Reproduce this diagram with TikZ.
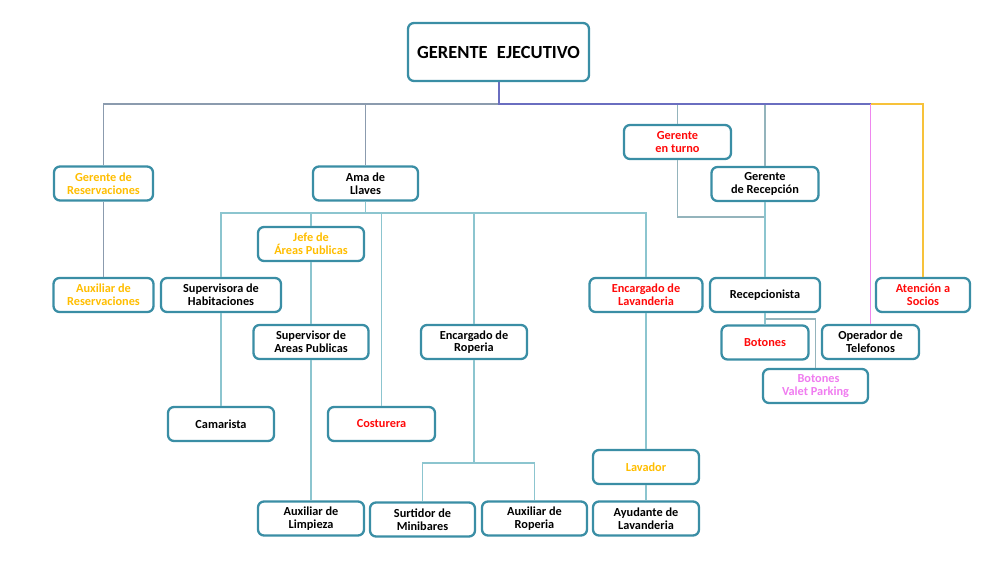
\documentclass[tikz,border=0pt]{standalone}
\usepackage{fontspec}
\setmainfont{Carlito}
\usetikzlibrary{positioning}
\definecolor{borde}{HTML}{3A8EA5}
\definecolor{gris}{HTML}{8B9BAE}
\definecolor{morado}{HTML}{6A6EC0}
\definecolor{claro}{HTML}{8CC5CF}
\definecolor{tenue}{HTML}{94B4BC}
\definecolor{oro}{HTML}{FFBE00}
\definecolor{rojo}{HTML}{FF0A0A}
\definecolor{rosa}{HTML}{F07CF0}
\definecolor{rosalinea}{HTML}{EE86EE}
\definecolor{oroline}{HTML}{F7C23A}

\begin{document}
\begin{tikzpicture}[x=1pt, y=-1pt, font=\bfseries\fontsize{12.3}{12.6}\selectfont,
	puesto/.style={draw=borde, line width=2.3pt, rounded corners=6pt, fill=white, align=center, inner sep=0pt, minimum height=34pt},
	linea gris/.style={draw=gris, line width=1.6pt},
	linea morada/.style={draw=morado, line width=2pt},
	linea clara/.style={draw=claro, line width=1.4pt},
	linea tenue/.style={draw=tenue, line width=1.3pt}]
			\useasboundingbox (0,0) rectangle (1003,563);

  			\node[puesto, minimum width=181pt, minimum height=58pt, font=\bfseries\fontsize{18.5}{20}\selectfont] (gerente) at (498.5,52) {GERENTE\enspace EJECUTIVO};

  			\node[puesto, minimum width=99pt, text=oro]   (gerente reservas) at (103.5,183.5) {Gerente de\\Reservaciones};
  			\node[puesto, minimum width=105pt]            (ama llaves)       at (365.5,183.5) {Ama de\\Llaves};
  			\node[puesto, minimum width=107pt, text=rojo] (gerente turno)    at (677.5,142)   {Gerente\\en turno};
  			\node[puesto, minimum width=107pt]            (gerente recepcion) at (765,184)    {Gerente\\de Recepción};
  			\node[puesto, minimum width=106pt, text=oro]  (jefe areas)       at (311,244)     {Jefe de\\Áreas Publicas};

  			\node[puesto, minimum width=100pt, text=oro]  (aux reservas)     at (103.5,295)   {Auxiliar de\\Reservaciones};
  			\node[puesto, minimum width=120pt]            (sup habitaciones) at (221,295)     {Supervisora de\\Habitaciones};
  			\node[puesto, minimum width=113pt, text=rojo] (enc lavanderia)   at (646,295)     {Encargado de\\Lavanderia};
  			\node[puesto, minimum width=110pt]            (recepcionista)    at (765,295)     {Recepcionista};
  			\node[puesto, minimum width=94pt, text=rojo]  (socios)           at (923,295)     {Atención a\\Socios};

  			\node[puesto, minimum width=115pt]            (sup areas)        at (311,342)     {Supervisor de\\Areas Publicas};
  			\node[puesto, minimum width=106pt]            (enc roperia)      at (474,342)     {Encargado de\\Roperia};
  			\node[puesto, minimum width=87pt, text=rojo]  (botones)          at (765,342.5)   {Botones};
  			\node[puesto, minimum width=97pt]             (operador)         at (870.5,342)   {Operador de\\Telefonos};
  			\node[puesto, minimum width=105pt, text=rosa] (valet)            at (815.5,386)   {\hspace*{6pt}Botones\\Valet Parking};

  			\node[puesto, minimum width=106pt]            (camarista)        at (221,424)     {Camarista};
  			\node[puesto, minimum width=107pt, text=rojo] (costurera)        at (381.5,424)   {Costurera};
  			\node[puesto, minimum width=106pt, text=oro]  (lavador)          at (646,467)     {Lavador};

  			\node[puesto, minimum width=106pt]            (aux limpieza)     at (311,518.5)   {Auxiliar de\\Limpieza};
  			\node[puesto, minimum width=105pt]            (surtidor)         at (422.5,519.5) {Surtidor de\\Minibares};
  			\node[puesto, minimum width=105pt]            (aux roperia)      at (534.5,518.5) {Auxiliar de\\Roperia};
  			\node[puesto, minimum width=106pt]            (ayudante)         at (646,518.5)   {Ayudante de\\Lavanderia};

			\coordinate (barra) at (498.5,104);
			\coordinate (barra ama) at (365.5,213);
			\coordinate (barra turno) at (765,217);
			\coordinate (barra valet) at (765,319);
			\coordinate (barra roperia) at (474,463);

			\draw[linea gris] (gerente reservas.north) |- (barra);
			\draw[linea gris] (ama llaves.north) -- (ama llaves.north |- barra);
			\draw[linea gris] (gerente reservas) -- (aux reservas);
			\draw[linea tenue] (gerente turno.north) -- (gerente turno.north |- barra);
			\draw[linea tenue] (gerente recepcion.north) -- (gerente recepcion.north |- barra);
			\draw[linea morada] (gerente.south) -- (barra) -- (barra -| operador.north);
			\draw[rosalinea, line width=1.6pt] (operador.north) -- (operador.north |- barra);
			\draw[oroline, line width=1.6pt] (socios.north) |- (barra -| operador.north);

			\draw[linea clara] (ama llaves.south) -- (barra ama);
			\draw[linea clara] (sup habitaciones.north) |- (barra ama) -| (enc lavanderia.north);
			\draw[linea clara] (jefe areas.north) -- (jefe areas.north |- barra ama);
			\draw[linea clara] (costurera.north) -- (costurera.north |- barra ama);
			\draw[linea clara] (enc roperia.north) -- (enc roperia.north |- barra ama);

			\draw[linea clara] (jefe areas) -- (sup areas);
			\draw[linea clara] (sup areas) -- (aux limpieza);
			\draw[linea clara] (sup habitaciones) -- (camarista);
			\draw[linea clara] (enc roperia.south) -- (barra roperia);
			\draw[linea clara] (surtidor.north) |- (barra roperia) -| (aux roperia.north);
			\draw[linea clara] (enc lavanderia) -- (lavador);
			\draw[linea clara] (lavador) -- (ayudante);

			\draw[linea tenue] (gerente turno.south) |- (barra turno);
			\draw[linea clara] (gerente recepcion) -- (recepcionista);
			\draw[linea clara] (recepcionista) -- (botones);
			\draw[linea tenue] (barra valet) -| (valet.north);

		\end{tikzpicture}
\end{document}
